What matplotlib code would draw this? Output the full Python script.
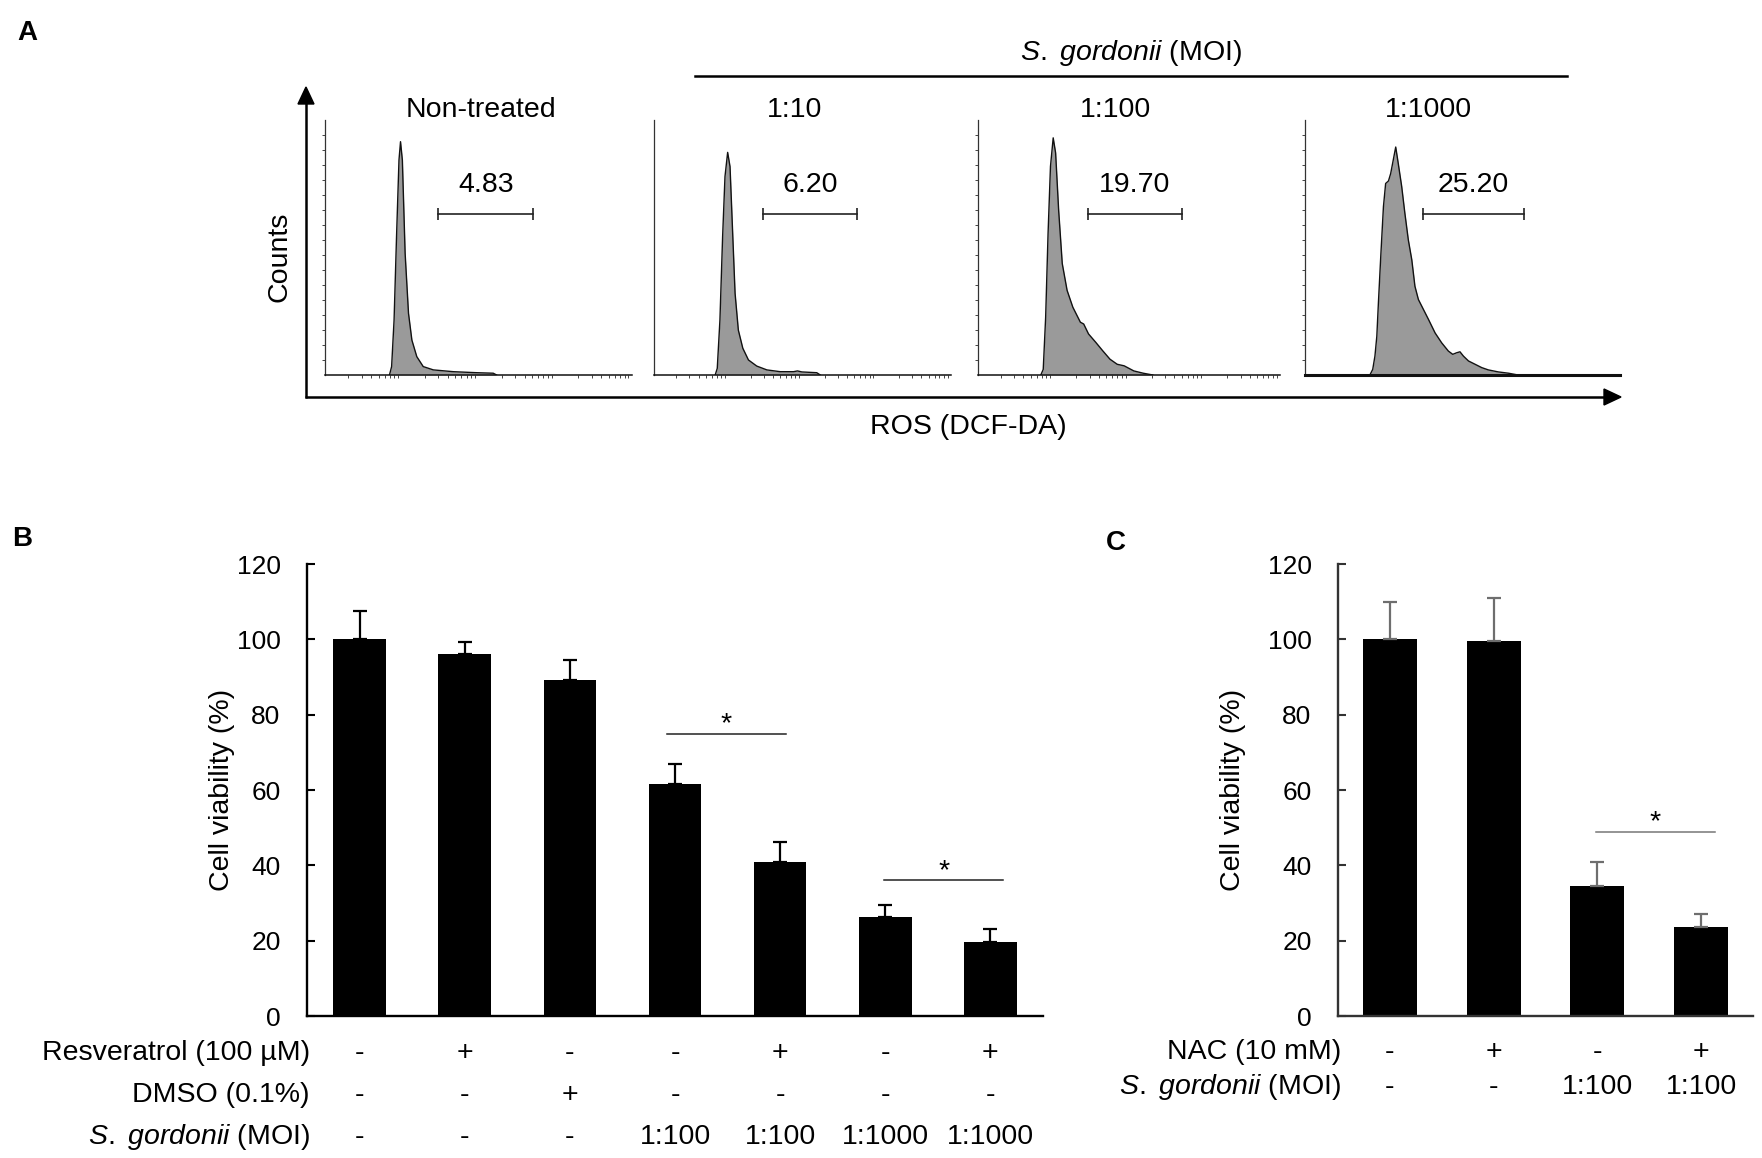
"""Flow-cytometry ROS histograms (A) and cell-viability bar charts (B, C)."""
import numpy as np
import matplotlib
matplotlib.use("Agg")
import matplotlib.pyplot as plt
from matplotlib.patches import Polygon
import matplotlib.transforms as mtransforms

# ---------------------------------------------------------------- data (A)
# x: fraction of the fluorescence channel range, y: fraction of panel height
nt_x = [0.210, 0.217, 0.225, 0.233, 0.241, 0.246, 0.252, 0.261, 0.272, 0.283,
        0.299, 0.320, 0.353, 0.418, 0.494, 0.548, 0.559]
nt_y = [0.000, 0.033, 0.216, 0.542, 0.843, 0.915, 0.843, 0.477, 0.242, 0.137,
        0.072, 0.033, 0.020, 0.013, 0.009, 0.007, 0.000]

moi10_x = [0.206, 0.213, 0.222, 0.231, 0.239, 0.248, 0.256, 0.264, 0.273, 0.284,
           0.299, 0.318, 0.346, 0.380, 0.425, 0.470, 0.483, 0.498, 0.548, 0.560]
moi10_y = [0.000, 0.026, 0.216, 0.542, 0.778, 0.873, 0.817, 0.582, 0.320, 0.176,
           0.105, 0.059, 0.035, 0.020, 0.013, 0.013, 0.016, 0.012, 0.009, 0.000]

moi100_x = [0.208, 0.216, 0.224, 0.232, 0.240, 0.249, 0.257, 0.267, 0.279, 0.295,
            0.314, 0.339, 0.350, 0.366, 0.390, 0.413, 0.437, 0.461, 0.484, 0.516,
            0.547, 0.579]
moi100_y = [0.000, 0.022, 0.226, 0.555, 0.818, 0.930, 0.871, 0.647, 0.437, 0.332,
            0.266, 0.207, 0.200, 0.161, 0.128, 0.095, 0.062, 0.042, 0.036, 0.016,
            0.007, 0.000]

moi1000_x = [0.206, 0.215, 0.222, 0.228, 0.233, 0.241, 0.249, 0.256, 0.265, 0.272,
             0.280, 0.288, 0.296, 0.307, 0.317, 0.328, 0.339, 0.349, 0.360, 0.376,
             0.392, 0.413, 0.434, 0.455, 0.469, 0.481, 0.492, 0.503, 0.519, 0.540,
             0.561, 0.582, 0.614, 0.646, 0.672]
moi1000_y = [0.000, 0.022, 0.074, 0.152, 0.282, 0.477, 0.660, 0.751, 0.761, 0.790,
             0.842, 0.894, 0.830, 0.739, 0.635, 0.530, 0.452, 0.348, 0.296, 0.257,
             0.218, 0.165, 0.126, 0.094, 0.081, 0.087, 0.091, 0.074, 0.055, 0.042,
             0.029, 0.020, 0.012, 0.007, 0.001]

hist_titles = ["Non-treated", "1:10", "1:100", "1:1000"]
gate_values = ["4.83", "6.20", "19.70", "25.20"]
gate_lo = [0.368, 0.367, 0.364, 0.375]
gate_hi = [0.679, 0.684, 0.675, 0.695]
gate_level = 0.631

# ---------------------------------------------------------------- data (B)
b_means = [100.0, 96.2, 89.2, 61.5, 41.0, 26.4, 19.7]
b_err = [7.5, 3.1, 5.2, 5.3, 5.1, 3.0, 3.4]
b_row_labels = ["Resveratrol (100 µM)", "DMSO (0.1%)", r"$\it{S.\ gordonii}$ (MOI)"]
b_resveratrol = ["-", "+", "-", "-", "+", "-", "+"]
b_dmso = ["-", "-", "+", "-", "-", "-", "-"]
b_moi = ["-", "-", "-", "1:100", "1:100", "1:1000", "1:1000"]
b_sig_x0 = [2.92, 4.99]
b_sig_x1 = [4.06, 6.12]
b_sig_y = [75.0, 36.0]

# ---------------------------------------------------------------- data (C)
c_means = [100.2, 99.6, 34.5, 23.5]
c_err = [9.6, 11.5, 6.3, 3.5]
c_row_labels = ["NAC (10 mM)", r"$\it{S.\ gordonii}$ (MOI)"]
c_nac = ["-", "+", "-", "+"]
c_moi = ["-", "-", "1:100", "1:100"]
c_sig_x0 = [1.99]
c_sig_x1 = [3.13]
c_sig_y = [48.9]

# ---------------------------------------------------------------- style
plt.rcParams.update({
    "font.family": "Liberation Sans",
    "mathtext.fontset": "custom",
    "mathtext.rm": "Liberation Sans",
    "mathtext.it": "Liberation Sans:italic",
})
W, H = 1762, 1158
FS = 20.5
TICK_FS = 19

fig = plt.figure(figsize=(W / 100, H / 100), dpi=100)


def px_axes(left, top, right, bottom):
    """Axes placed by pixel box (origin top-left)."""
    return fig.add_axes([left / W, 1 - bottom / H, (right - left) / W, (bottom - top) / H])


# overlay in pixel coordinates for arrows, panel letters and shared labels
ov = fig.add_axes([0, 0, 1, 1])
ov.set_xlim(0, W)
ov.set_ylim(H, 0)
ov.axis("off")

for letter, lx, ly in [("A", 17, 40), ("B", 12, 546), ("C", 1106, 550)]:
    ov.text(lx, ly, letter, fontsize=20, fontweight="bold", ha="left", va="baseline")

# big axes arrows of panel A
ov.plot([306, 306], [398, 102], color="k", lw=1.8, solid_capstyle="butt")
ov.add_patch(Polygon([[298, 104], [314, 104], [306, 87]], closed=True, color="k"))
ov.plot([305, 1606], [397, 397], color="k", lw=1.8, solid_capstyle="butt")
ov.add_patch(Polygon([[1604, 389], [1604, 405], [1621, 397]], closed=True, color="k"))
ov.text(280, 257, "Counts", fontsize=FS, rotation=90, ha="center", va="center")
ov.text(968, 427, "ROS (DCF-DA)", fontsize=FS, ha="center", va="center")
ov.plot([695, 1567], [76, 76], color="k", lw=1.8)
ov.text(1131, 53, r"$\it{S.\ gordonii}$ (MOI)", fontsize=FS, ha="center", va="center")

# ---------------------------------------------------------------- panel A
hist_x = [nt_x, moi10_x, moi100_x, moi1000_x]
hist_y = [nt_y, moi10_y, moi100_y, moi1000_y]
panel_left = [325, 654, 978, 1305]
panel_right = [632, 951, 1280, 1620]
title_cx = [481, 795, 1115, 1428]
show_yticks = [True, False, True, True]
show_xticks = [True, True, True, False]

decade_ticks = [(d + np.log10(k)) / 4 for d in range(4) for k in range(2, 10)]

for i in range(4):
    ax = px_axes(panel_left[i], 120, panel_right[i], 375)
    ax.set_xlim(0, 1)
    ax.set_ylim(0, 1)
    ax.fill_between(hist_x[i], hist_y[i], 0, color="#9a9a9a", lw=0)
    ax.plot(hist_x[i], hist_y[i], color="#111111", lw=1.0)

    for s in ("top", "right"):
        ax.spines[s].set_visible(False)
    ax.spines["left"].set_color("#333333")
    ax.spines["left"].set_linewidth(0.9)
    ax.spines["bottom"].set_color("#111111")
    ax.spines["bottom"].set_linewidth(2.2 if i == 3 else 1.1)

    ax.set_yticks(np.arange(1, 17) / 17 if show_yticks[i] else [])
    ax.set_xticks(decade_ticks if show_xticks[i] else [])
    ax.tick_params(axis="both", direction="out", length=2.2, width=0.7,
                   color="#444444", labelleft=False, labelbottom=False)

    lo, hi = gate_lo[i], gate_hi[i]
    ax.plot([lo, hi], [gate_level, gate_level], color="#222222", lw=1.2)
    ax.plot([lo, hi], [gate_level, gate_level], ls="none", marker="|", ms=9,
            mew=1.2, color="#222222")
    ax.text((lo + hi) / 2, gate_level + 22 / 255, gate_values[i], fontsize=FS,
            ha="center", va="baseline")
    ov.text(title_cx[i], 117, hist_titles[i], fontsize=FS, ha="center", va="baseline")


# ---------------------------------------------------------------- panels B, C
def bar_panel(box, means, err, width, err_color, axis_color, label_cx):
    ax = px_axes(*box)
    x = np.arange(len(means))
    ax.bar(x, means, width=width, color="k", zorder=2)
    ax.errorbar(x, means, yerr=[np.zeros(len(err)), err], fmt="none",
                ecolor=err_color, elinewidth=1.6, capsize=4.7, capthick=1.6, zorder=3)
    ax.set_xlim(-0.5, len(means) - 0.5)
    ax.set_ylim(0, 120)
    ax.set_yticks(range(0, 121, 20))
    ax.set_xticks([])
    for s in ("top", "right"):
        ax.spines[s].set_visible(False)
    for s in ("left", "bottom"):
        ax.spines[s].set_linewidth(1.7)
        ax.spines[s].set_color(axis_color)
    ax.tick_params(axis="y", direction="in", length=6, width=1.5, color=axis_color,
                   labelsize=TICK_FS, pad=19)
    left, top, right, bottom = box
    ax.text((label_cx - left) / (right - left), 0.5, "Cell viability (%)",
            transform=ax.transAxes, fontsize=FS, rotation=90, ha="center", va="center")
    return ax


def add_rows(ax, box, row_labels, rows, row_px):
    left, top, right, bottom = box
    blend = mtransforms.blended_transform_factory(ax.transData, ax.transAxes)
    for lab, vals, ypx in zip(row_labels, rows, row_px):
        yf = (bottom - ypx) / (bottom - top)
        ax.text(3 / (right - left), yf, lab, transform=ax.transAxes, fontsize=FS,
                ha="right", va="center", clip_on=False)
        for j, v in enumerate(vals):
            ax.text(j, yf, v, transform=blend, fontsize=FS, ha="center", va="center",
                    clip_on=False)


def add_sig(ax, x0s, x1s, ys, color):
    for x0, x1, y in zip(x0s, x1s, ys):
        ax.plot([x0, x1], [y, y], color=color, lw=1.1, zorder=3)
        ax.text((x0 + x1) / 2, y + 0.6, "*", fontsize=FS, ha="center", va="baseline",
                color="k")


box_b = (307, 564, 1043, 1016)
ax_b = bar_panel(box_b, b_means, b_err, 0.5, "k", "k", 222)
add_sig(ax_b, b_sig_x0, b_sig_x1, b_sig_y, "#222222")
add_rows(ax_b, box_b, b_row_labels, [b_resveratrol, b_dmso, b_moi], [1053, 1095, 1137])

box_c = (1338, 564, 1753, 1016)
ax_c = bar_panel(box_c, c_means, c_err, 0.52, "#6e6e6e", "#333333", 1233)
add_sig(ax_c, c_sig_x0, c_sig_x1, c_sig_y, "#777777")
add_rows(ax_c, box_c, c_row_labels, [c_nac, c_moi], [1052, 1087])

fig.savefig("out.png", dpi=100)
